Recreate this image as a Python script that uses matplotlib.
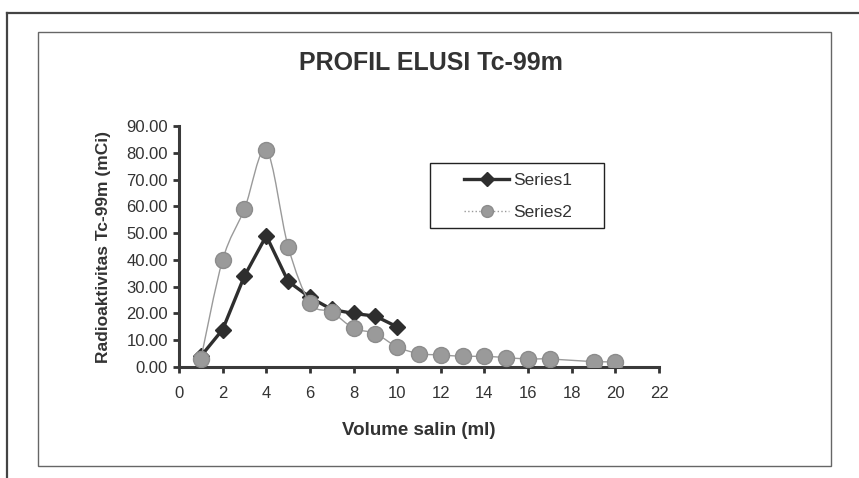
import numpy as np
import matplotlib
matplotlib.use("Agg")
import matplotlib.pyplot as plt
from matplotlib.path import Path
from matplotlib.patches import PathPatch, Rectangle
from matplotlib.lines import Line2D

plt.rcParams['font.family'] = ['Liberation Sans', 'DejaVu Sans']

# data
vol_s1 = [1, 2, 3, 4, 5, 6, 7, 8, 9, 10]
act_s1 = [4.0, 14.0, 34.0, 49.0, 32.0, 26.0, 21.5, 20.0, 19.0, 15.0]
vol_s2 = [1, 2, 3, 4, 5, 6, 7, 8, 9, 10, 11, 12, 13, 14, 15, 16, 17, 19, 20]
act_s2 = [3.0, 40.0, 59.0, 81.0, 45.0, 24.0, 20.5, 14.5, 12.5, 7.5,
          5.0, 4.5, 4.0, 4.0, 3.5, 3.0, 3.0, 2.0, 2.0]
xticks = list(range(0, 23, 2))
yticks = [0, 10, 20, 30, 40, 50, 60, 70, 80, 90]

dark = '#2e2e2e'
grey = '#9a9a9a'
txt = '#333333'


def smooth_path(xs, ys):
    # excel style smoothed line, bezier segments between the points
    p = np.column_stack([xs, ys]).astype(float)
    verts = [p[0]]
    codes = [Path.MOVETO]
    n = len(p)
    for i in range(n - 1):
        p0 = p[i - 1] if i > 0 else p[i]
        p3 = p[i + 2] if i + 2 < n else p[i + 1]
        c1 = p[i] + (p[i + 1] - p0) / 6.0
        c2 = p[i + 1] - (p3 - p[i]) / 6.0
        verts += [c1, c2, p[i + 1]]
        codes += [Path.CURVE4] * 3
    return Path(verts, codes)


fig = plt.figure(figsize=(8.59, 4.78), dpi=100)

# outer page lines and inner chart frame
fig.add_artist(Line2D([0.008, 0.008], [0.0, 0.973], color='#444444', lw=1.6))
fig.add_artist(Line2D([0.008, 1.0], [0.973, 0.973], color='#444444', lw=1.6))
fig.add_artist(Rectangle((0.044, 0.025), 0.923, 0.908, fill=False,
                         edgecolor='#666666', lw=1.0))

ax = fig.add_axes([0.2084, 0.2322, 0.5588, 0.5042])

ax.plot(vol_s1, act_s1, color=dark, lw=2.4, marker='D', markersize=8,
        markerfacecolor=dark, markeredgecolor=dark, zorder=3)

ax.add_patch(PathPatch(smooth_path(vol_s2, act_s2), facecolor='none',
                       edgecolor=grey, lw=1.0, zorder=4))
ax.plot(vol_s2, act_s2, ls='none', marker='o', markersize=11.5,
        markerfacecolor=grey, markeredgecolor='#8c8c8c', zorder=5)

ax.set_xlim(0, 22)
ax.set_ylim(0, 90)
ax.set_xticks(xticks)
ax.set_yticks(yticks)
ax.set_yticklabels(['%.2f' % v for v in yticks])
ax.tick_params(axis='both', colors=txt, labelsize=12, width=2, length=4,
               direction='out')
ax.tick_params(axis='x', pad=10)
ax.tick_params(axis='y', pad=4)
for s in ['top', 'right']:
    ax.spines[s].set_visible(False)
for s in ['left', 'bottom']:
    ax.spines[s].set_color('#3a3a3a')
    ax.spines[s].set_linewidth(2.2)

ax.set_xlabel('Volume salin (ml)', fontsize=13.5, fontweight='bold', color=txt,
              labelpad=15)
ax.set_ylabel('Radioaktivitas Tc-99m (mCi)', fontsize=12.5, fontweight='bold',
              color=txt, labelpad=11)

fig.text(0.502, 0.868, 'PROFIL ELUSI Tc-99m', ha='center', va='center',
         fontsize=18, fontweight='bold', color=txt)

# legend box drawn by hand so the padding can be wider than tall
ax.add_patch(Rectangle((0.523, 0.577), 0.362, 0.269, transform=ax.transAxes,
                       fill=False, edgecolor='#222222', lw=1.0, zorder=6,
                       clip_on=False))
handles = [
    Line2D([], [], color=dark, lw=2.4, marker='D', markersize=7,
           markerfacecolor=dark, markeredgecolor=dark),
    Line2D([], [], color=grey, lw=1.0, ls=':', marker='o', markersize=8.5,
           markerfacecolor=grey, markeredgecolor='#8c8c8c'),
]
leg = ax.legend(handles, ['Series1', 'Series2'], loc='upper left',
                bbox_to_anchor=(0.594, 0.805), fontsize=12.5, frameon=False,
                handlelength=2.6, borderpad=0, borderaxespad=0,
                labelspacing=0.95, handletextpad=0.2)
for t in leg.get_texts():
    t.set_color(txt)

fig.savefig('out.png', dpi=100)
